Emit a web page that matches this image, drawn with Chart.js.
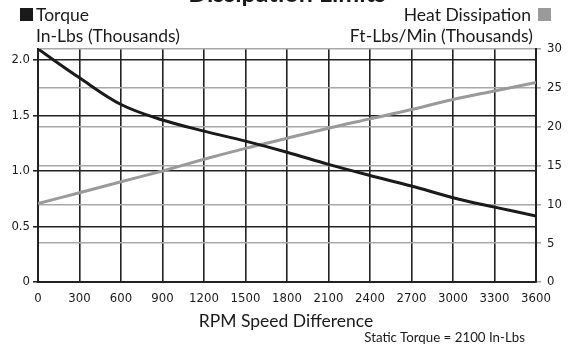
<!DOCTYPE html>
<html lang="en">
<head>
    <meta charset="UTF-8">
    <title>Torque and Heat Dissipation Limits</title>
    <script src="https://cdn.jsdelivr.net/npm/chart.js"></script>
    <style>
        body {
            margin: 0;
            padding: 0;
            background: #fff;
            font-family: Lato, "DejaVu Sans", sans-serif;
            color: #1a1a1a;
        }
        .wrap {
            position: relative;
            width: 568px;
            height: 351px;
            overflow: hidden;
        }
        .wrap canvas {
            position: absolute;
            left: 0;
            top: 0;
        }
        .txt {
            position: absolute;
            white-space: nowrap;
            font-size: 17.5px;
            line-height: 1;
        }
        .swatch {
            position: absolute;
            width: 13px;
            height: 13px;
        }
        .title {
            position: absolute;
            left: 0;
            width: 574px;
            top: -20px;
            text-align: center;
            font-weight: bold;
            font-size: 25px;
            line-height: 1;
        }
    </style>
</head>
<body>
<div class="wrap">
    <canvas id="chart" width="568" height="351"></canvas>
    <div class="title">Dissipation Limits</div>
    <div class="swatch" style="left:20px;top:8px;background:#1a1a1a"></div>
    <div class="txt" style="left:36px;top:6px">Torque</div>
    <div class="txt" style="left:36px;top:27px">In-Lbs (Thousands)</div>
    <div class="swatch" style="left:538px;top:8px;background:#9a9a9a"></div>
    <div class="txt" style="right:37px;top:6px">Heat Dissipation</div>
    <div class="txt" style="right:35px;top:27px">Ft-Lbs/Min (Thousands)</div>
    <div class="txt" style="left:0;width:572px;text-align:center;top:312px">RPM Speed Difference</div>
    <div class="txt" style="right:43px;top:331px;font-size:13.3px">Static Torque = 2100 In-Lbs</div>
</div>
<script>
    // RPM speed difference (x axis)
    const rpm = [0, 300, 600, 900, 1200, 1500, 1800, 2100, 2400, 2700, 3000, 3300, 3600];
    // torque, thousands of in-lbs (left axis)
    const torque = [2.1, 1.84, 1.60, 1.46, 1.36, 1.27, 1.17, 1.06, 0.96, 0.865, 0.76, 0.675, 0.595];
    // heat dissipation, thousands of ft-lbs/min (right axis)
    const heat = [10.1, 11.5, 12.9, 14.3, 15.8, 17.2, 18.5, 19.8, 21.0, 22.2, 23.5, 24.6, 25.7];
    const leftTicks = [0, 0.5, 1.0, 1.5, 2.0];
    const rightTicks = [0, 5, 10, 15, 20, 25, 30];

    const tickFont = { family: "'Liberation Sans Narrow', 'DejaVu Sans Condensed', sans-serif", size: 13 };

    function pts(ys) {
        return rpm.map((x, i) => ({ x: x, y: ys[i] }));
    }

    new Chart(document.getElementById("chart"), {
        type: "line",
        data: {
            datasets: [{
                label: "Torque",
                data: pts(torque),
                yAxisID: "yL",
                borderColor: "#1a1a1a",
                borderWidth: 3,
                pointRadius: 0,
                tension: 0.35
            }, {
                label: "Heat Dissipation",
                data: pts(heat),
                yAxisID: "yR",
                borderColor: "#9a9a9a",
                borderWidth: 3,
                pointRadius: 0,
                tension: 0.35
            }]
        },
        options: {
            responsive: false,
            animation: false,
            layout: { padding: { top: 49, left: 0, right: 0, bottom: 0 } },
            plugins: { legend: { display: false }, tooltip: { enabled: false } },
            scales: {
                x: {
                    type: "linear",
                    min: 0,
                    max: 3600,
                    ticks: { stepSize: 300, color: "#1a1a1a", font: tickFont, padding: 9, callback: v => String(v) },
                    grid: { color: "#222", lineWidth: 1.6, drawTicks: false },
                    border: { color: "#222", width: 2 },
                    afterFit: s => { s.height = 69; }
                },
                yL: {
                    position: "left",
                    min: 0,
                    max: 2.1,
                    afterBuildTicks: s => { s.ticks = leftTicks.map(v => ({ value: v })); },
                    ticks: {
                        color: "#1a1a1a",
                        font: tickFont,
                        padding: 3,
                        callback: v => v === 0 ? "0" : v.toFixed(1)
                    },
                    grid: { color: "#222", lineWidth: 1.6, tickLength: 5 },
                    border: { color: "#222", width: 2 },
                    afterFit: s => { s.width = 38; }
                },
                yR: {
                    position: "right",
                    min: 0,
                    max: 30,
                    afterBuildTicks: s => { s.ticks = rightTicks.map(v => ({ value: v })); },
                    ticks: { color: "#1a1a1a", font: tickFont, padding: 6 },
                    grid: { color: "#a8a8a8", lineWidth: 1.6, tickLength: 5 },
                    border: { color: "#222", width: 2 },
                    afterFit: s => { s.width = 32; }
                }
            }
        }
    });
</script>
</body>
</html>
